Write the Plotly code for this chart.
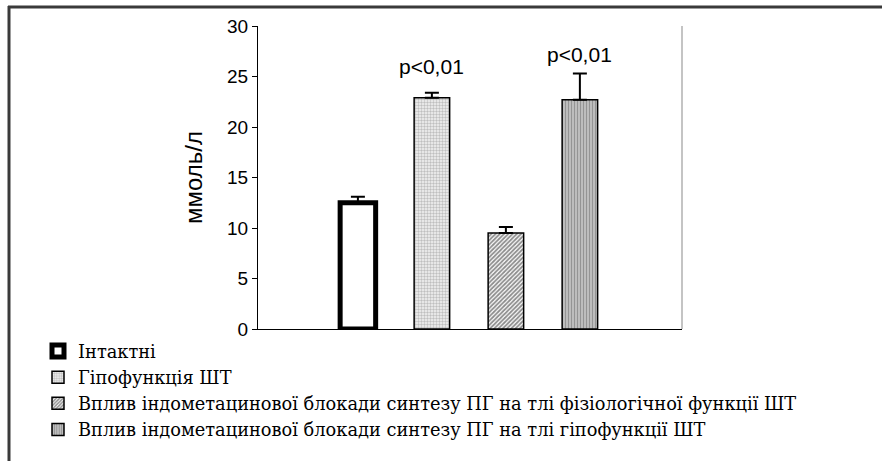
import plotly.graph_objects as go

categories = ["Інтактні", "Гіпофункція ШТ",
              "Вплив індометацинової блокади синтезу ПГ на тлі фізіологічної функції ШТ",
              "Вплив індометацинової блокади синтезу ПГ на тлі гіпофункції ШТ"]
values = [12.5, 22.9, 9.5, 22.7]
errors = [0.6, 0.5, 0.6, 2.6]
pvalues = ["", "p<0,01", "", "p<0,01"]
xpos = [0, 1, 2, 3]
yticks = [0, 5, 10, 15, 20, 25, 30]

label_shift = [0, 13, 0, 5]

styles = [
    dict(color="white", line=dict(color="black", width=5)),
    dict(color="white", line=dict(color="black", width=1.5),
         pattern=dict(shape=".", fgcolor="#8a8a8a", bgcolor="#f4f4f4", size=3, solidity=0.5)),
    dict(color="white", line=dict(color="black", width=1.5),
         pattern=dict(shape="/", fgcolor="#1a1a1a", bgcolor="white", size=3, solidity=0.6)),
    dict(color="white", line=dict(color="black", width=1.5),
         pattern=dict(shape="|", fgcolor="#2a2a2a", bgcolor="white", size=3, solidity=0.75)),
]

fig = go.Figure()
for i in range(4):
    fig.add_trace(go.Bar(
        x=[xpos[i]], y=[values[i]], name=categories[i], width=0.48,
        marker=styles[i],
        error_y=dict(type="data", array=[errors[i]], arrayminus=[0], symmetric=False,
                     visible=True, color="black", thickness=2, width=7),
    ))
    if pvalues[i]:
        fig.add_annotation(x=xpos[i], y=values[i] + errors[i], text=pvalues[i],
                           showarrow=False, yanchor="bottom", yshift=label_shift[i],
                           font=dict(family="Liberation Sans", size=21, color="black"))

W, H = 882, 461
L, R, T, B = 258, 682, 26, 329
pw, ph = R - L, B - T

def px(x):
    return (x - L) / pw

def py(y):
    return (B - y) / ph

fig.update_layout(
    width=W, height=H, barmode="overlay",
    margin=dict(l=L, r=W - R, t=T, b=H - B, pad=0),
    paper_bgcolor="white", plot_bgcolor="white",
    showlegend=True,
    legend=dict(x=px(38), y=py(333), xanchor="left", yanchor="top",
                font=dict(family="DejaVu Serif", size=17.8, color="black"),
                bgcolor="rgba(0,0,0,0)", tracegroupgap=0, itemwidth=30),
    xaxis=dict(range=[-1.35, 4.38], showticklabels=False, ticks="", showgrid=False,
               zeroline=False, showline=True, linecolor="black", linewidth=1),
    yaxis=dict(range=[0, 30], tickvals=yticks, ticks="outside", ticklen=5, tickcolor="black",
               showgrid=False, zeroline=False, showline=True, linecolor="black", linewidth=1,
               tickfont=dict(family="Liberation Sans", size=19, color="black"),
               title=dict(text="ммоль/л", font=dict(family="Liberation Sans", size=24, color="black"),
                          standoff=17)),
    shapes=[
        dict(type="line", xref="paper", yref="paper", x0=1, x1=1, y0=0, y1=1,
             line=dict(color="#b0b0b0", width=1.5)),
        dict(type="line", xref="paper", yref="paper", x0=px(8), x1=px(882), y0=py(7), y1=py(7),
             line=dict(color="#3a3a3a", width=3)),
        dict(type="line", xref="paper", yref="paper", x0=px(9), x1=px(9), y0=py(6), y1=py(461),
             line=dict(color="#3a3a3a", width=3)),
    ],
)

fig.write_html("out.html", config={"displayModeBar": False},
               post_script="document.body.style.margin='0px';document.body.style.overflow='hidden';")
